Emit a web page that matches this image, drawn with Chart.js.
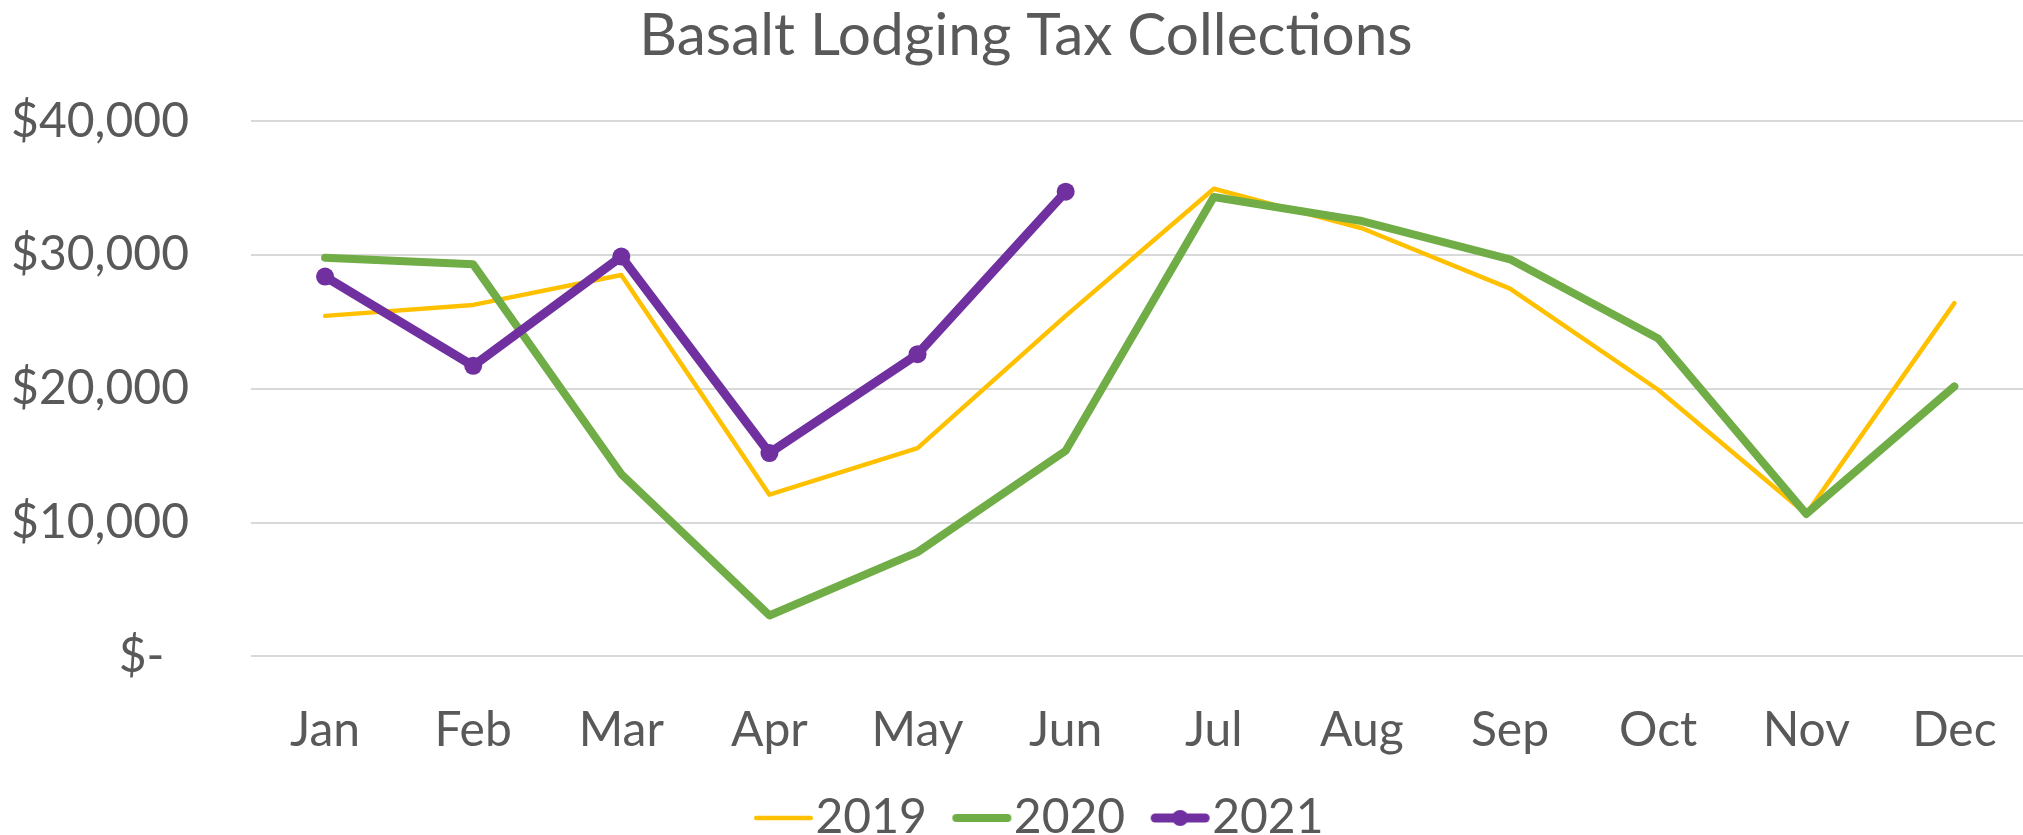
<!DOCTYPE html>
<html>
<head>
<meta charset="utf-8">
<script src="https://cdn.jsdelivr.net/npm/chart.js@4/dist/chart.umd.min.js"></script>
<style>
  html, body { margin: 0; padding: 0; background: #fff; overflow: hidden; }
  #wrap { width: 2042px; height: 852px; }
</style>
</head>
<body>
<div id="wrap"><canvas id="myChart"></canvas></div>
<script>
const months = ["Jan", "Feb", "Mar", "Apr", "May", "Jun", "Jul", "Aug", "Sep", "Oct", "Nov", "Dec"];
const tax2019 = [25450, 26270, 28510, 12090, 15570, 25450, 34950, 32000, 27490, 19930, 10650, 26400];
const tax2020 = [29800, 29300, 13630, 3060, 7790, 15370, 34330, 32540, 29680, 23760, 10650, 20180];
const tax2021 = [28390, 21720, 29880, 15200, 22590, 34730];
const yTicks = [0, 10000, 20000, 30000, 40000];

const textColor = "#595959";
const fontFamily = "Lato, 'Open Sans', sans-serif";

// legend swatch: a short line (with a dot for 2021), shifted right so the text sits close to it
function makeSwatch(color, width, dot) {
  const c = document.createElement("canvas");
  c.width = 120;
  c.height = 24;
  const g = c.getContext("2d");
  g.strokeStyle = color;
  g.lineWidth = width;
  g.lineCap = "round";
  g.beginPath();
  g.moveTo(54 + width / 2, 12);
  g.lineTo(113 - width / 2, 12);
  g.stroke();
  if (dot) {
    g.fillStyle = color;
    g.beginPath();
    g.arc(83.5, 12, 8, 0, Math.PI * 2);
    g.fill();
  }
  return c;
}

const series = [
  { label: "2019", data: tax2019, color: "#FFC000", width: 4.5, dot: false },
  { label: "2020", data: tax2020, color: "#70AD47", width: 8, dot: false },
  { label: "2021", data: tax2021, color: "#7030A0", width: 9, dot: true },
];

const ctx = document.getElementById("myChart");

new Chart(ctx, {
  type: "line",
  data: {
    labels: months,
    datasets: series.map((s, i) => ({
      label: s.label,
      data: s.data,
      borderColor: s.color,
      backgroundColor: s.color,
      borderWidth: s.width,
      borderCapStyle: "round",
      borderJoinStyle: "round",
      pointStyle: "circle",
      pointRadius: s.dot ? 9 : 0,
      pointHoverRadius: s.dot ? 9 : 0,
      pointBorderWidth: 0,
      tension: 0,
      order: 3 - i,
    })),
  },
  options: {
    responsive: true,
    maintainAspectRatio: false,
    animation: false,
    layout: {
      padding: { left: 10, right: 0, top: 0, bottom: 0 },
    },
    plugins: {
      title: {
        display: true,
        text: "Basalt Lodging Tax Collections",
        color: textColor,
        font: { family: fontFamily, size: 58.5, weight: "normal" },
        padding: { top: 1, bottom: 50 },
      },
      legend: {
        position: "bottom",
        labels: {
          color: textColor,
          font: { family: fontFamily, size: 48 },
          usePointStyle: true,
          pointStyleWidth: 63,
          padding: 0,
          generateLabels(chart) {
            return series.map((s, i) => ({
              text: s.label,
              fontColor: textColor,
              pointStyle: makeSwatch(s.color, s.width, s.dot),
              datasetIndex: i,
              hidden: false,
              lineWidth: 0,
            }));
          },
        },
      },
      tooltip: { enabled: false },
    },
    scales: {
      x: {
        offset: true,
        afterFit(scale) {
          scale.height -= 10;
        },
        grid: { display: false, drawTicks: false },
        border: { display: false },
        ticks: {
          color: textColor,
          font: { family: fontFamily, size: 48 },
          padding: 45,
          maxRotation: 0,
          autoSkip: false,
        },
      },
      y: {
        min: 0,
        max: 40000,
        afterBuildTicks(scale) {
          scale.ticks = yTicks.map((v) => ({ value: v }));
        },
        afterFit(scale) {
          scale.width = 241;
        },
        grid: { color: "#D9D9D9", lineWidth: 2, drawTicks: false },
        border: { display: false },
        ticks: {
          color: textColor,
          font: { family: fontFamily, size: 48 },
          padding: 62,
          callback: (v) => (v === 0 ? "$-  " : "$" + v.toLocaleString("en-US")),
        },
      },
    },
  },
});
</script>
</body>
</html>
